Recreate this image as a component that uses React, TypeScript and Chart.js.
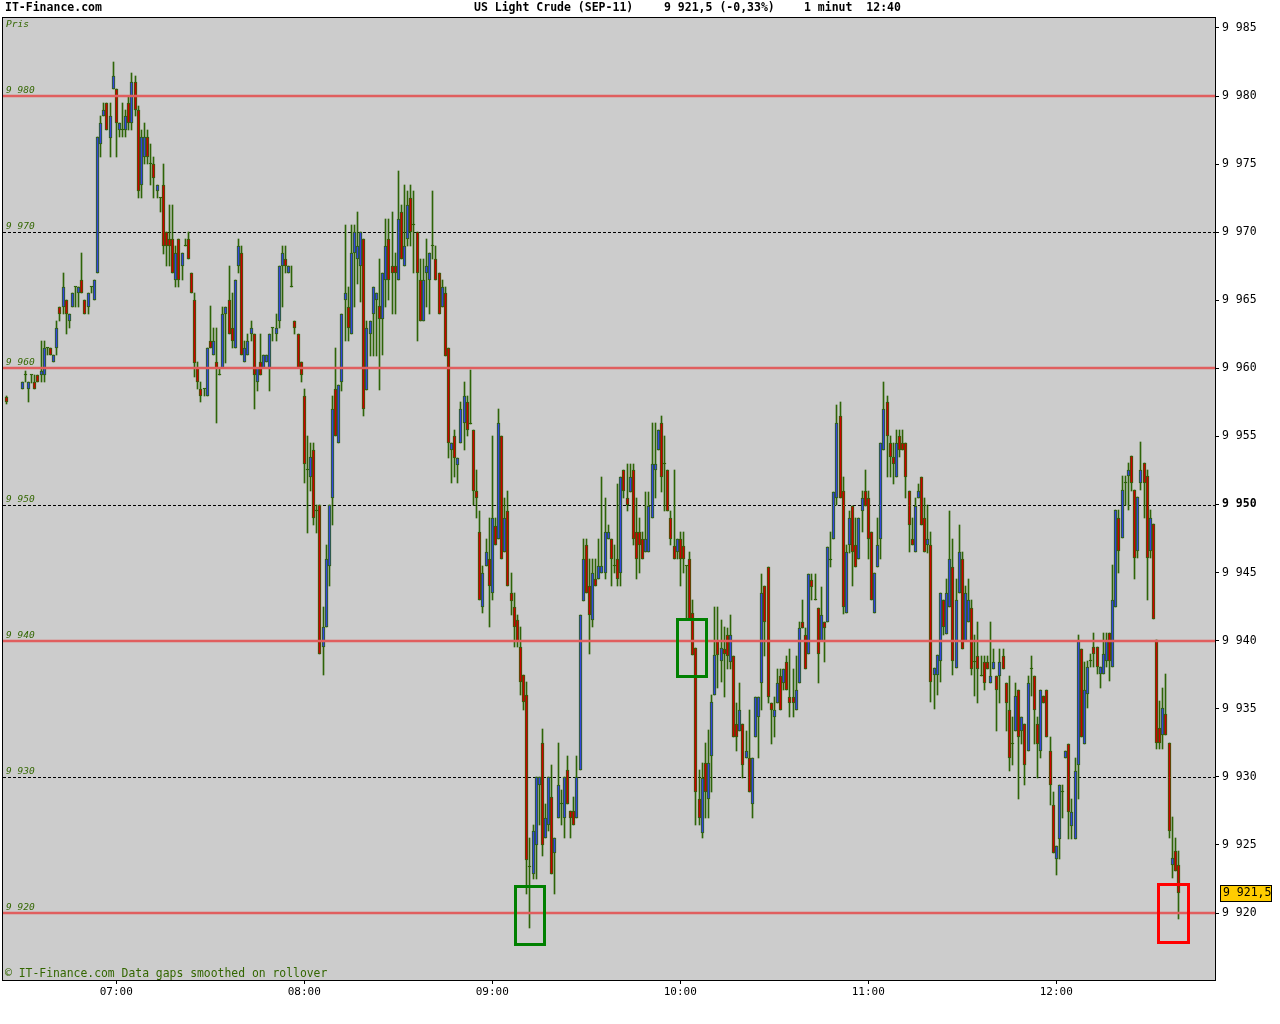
import React, { useEffect, useRef } from 'react';
import { Chart, registerables } from 'chart.js';

Chart.register(...registerables);

// ---------- data ----------
const firstMinute = 390; // 06:30, continuous 1-minute bars from here
const preBarMinute = 385; // isolated bar at 06:25

const opens = [
  9957.9,
  9958.5, 9959.5, 9958.5, 9959.5, 9959, 9959.5, 9959.5, 9959.5, 9961.5, 9961.5,
  9960.5, 9961.5, 9964.5, 9964.5, 9965, 9963.5, 9964.5, 9966, 9965.5, 9966.5,
  9965, 9964.5, 9966, 9965, 9967, 9976.5, 9978.5, 9979.5, 9976.9, 9980.5,
  9980.5, 9977.5, 9977.5, 9977.5, 9979.5, 9978, 9981, 9979, 9973.5, 9975.5,
  9977, 9975, 9975, 9973, 9972.5, 9973.5, 9970, 9969.5, 9969.5, 9966.5,
  9969.5, 9967.5, 9969, 9969.5, 9967, 9965, 9960, 9958.5, 9958.5, 9958,
  9962, 9961, 9960.5, 9959.5, 9960, 9964, 9965, 9963, 9961.5, 9967.5,
  9968.5, 9960.5, 9961, 9962.5, 9962.5, 9959, 9960.5, 9960, 9960.5, 9960,
  9963, 9962.5, 9963.5, 9967.5, 9968, 9967, 9966, 9963.5, 9962.5, 9960.5,
  9958, 9952.5, 9952, 9954, 9949.5, 9950, 9939.5, 9941, 9945.5, 9950.5,
  9958.5, 9954.5, 9959, 9965, 9964.5, 9962.5, 9968.5, 9968, 9967.5, 9969.5,
  9958.4, 9962.5, 9964, 9965, 9964.6, 9963.6, 9966.5, 9969.5, 9967.5, 9967.5,
  9966.5, 9971.5, 9967.5, 9969.5, 9972.5, 9970.5, 9970, 9966.5, 9963.5, 9967,
  9966.5, 9969, 9968, 9967, 9964.5, 9965.5, 9961.5, 9954, 9955, 9952.9,
  9954.5, 9956, 9957.5, 9955.9, 9955.5, 9951, 9948, 9942.5, 9945.5, 9946,
  9943.5, 9948.4, 9947.5, 9955, 9946.5, 9949.5, 9943.5, 9942.5, 9941.5, 9939.5,
  9937.5, 9936, 9923.4, 9922.9, 9925, 9929.4, 9932.5, 9925.5, 9926.5, 9928.5,
  9924.4, 9927, 9928, 9927, 9930.5, 9927.5, 9927.5, 9927, 9930.5, 9942.9,
  9947, 9944, 9941.5, 9944.5, 9944.5, 9945, 9945, 9947.45, 9947.45, 9945.5,
  9946, 9945, 9952.5, 9950.45, 9950.9, 9952.5, 9948, 9948, 9947.45, 9946.5,
  9946.5, 9949, 9952.5, 9954, 9956, 9953, 9952.5, 9949, 9946.95, 9946.5,
  9947.45, 9946.95, 9945.5, 9946, 9942, 9939.45, 9928.4, 9925.9, 9931, 9928.4,
  9931.5, 9936, 9940, 9938.5, 9939.4, 9940.45, 9938.45, 9938.9, 9933.9, 9933.4,
  9933.9, 9931.4, 9931.4, 9928, 9932.9, 9934.4, 9936.9, 9944, 9945.4, 9935.4,
  9934.4, 9935.4, 9937.4, 9936.9, 9938.45, 9935.9, 9935.9, 9934.9, 9936.9, 9941.4,
  9940.45, 9939, 9944.45, 9942.97, 9942.4, 9940, 9941.4, 9941.4, 9945.96, 9947.45,
  9950.5, 9956.5, 9951, 9942, 9947, 9949.9, 9947, 9946, 9949.5, 9951,
  9950.45, 9948, 9942, 9945.4, 9947.45, 9954, 9957.5, 9954.5, 9953.5, 9952,
  9955, 9954.5, 9954.5, 9951, 9947.5, 9946.5, 9950.45, 9952, 9949, 9947,
  9947, 9937.46, 9937.5, 9938.5, 9943, 9940.5, 9942.45, 9945.4, 9938, 9943.5,
  9946, 9940, 9941.4, 9942.4, 9938.45, 9938.9, 9937.44, 9938.45, 9938.45, 9936.9,
  9937.93, 9937.44, 9937.44, 9938.9, 9936.9, 9934.94, 9932.4, 9933.4, 9936.4, 9933.4,
  9933.9, 9931.9, 9937.93, 9937.44, 9933.9, 9931.9, 9935.94, 9936.4, 9931.9, 9927.96,
  9924, 9925.4, 9928.9, 9931.4, 9932.4, 9926.4, 9925.4, 9930.9, 9939.42, 9932.4,
  9936.07, 9938.54, 9939.54, 9939.54, 9937.55, 9937.55, 9938.54, 9940.53, 9938.05, 9942.5,
  9949.03, 9947.52, 9951.56, 9952.06, 9953.55, 9951.07, 9946.55, 9951.56, 9953.05, 9952.06,
  9946.55, 9948.54, 9940.03, 9933.59, 9933.09, 9934.58, 9932.52, 9923.54, 9924.58, 9923.54,
];

const highs = [
  9958,
  9959, 9959.8, 9959, 9959.5, 9959.5, 9959.5, 9962, 9962, 9961.5, 9961.5,
  9961, 9963.5, 9964.5, 9967, 9965, 9964, 9965.5, 9966, 9966, 9968.5,
  9965, 9965.5, 9966, 9966.5, 9977, 9978.5, 9979.5, 9979.5, 9979.5, 9982.5,
  9980.5, 9978, 9979.5, 9979, 9980, 9981.7, 9981.5, 9979.3, 9977.5, 9978,
  9977.5, 9976.5, 9975.5, 9973.5, 9972.5, 9975, 9970, 9972, 9972, 9969,
  9969.5, 9968.5, 9969.5, 9970, 9967, 9965.5, 9960.5, 9959, 9958.5, 9961.5,
  9964.6, 9963, 9963, 9960, 9964.5, 9964.5, 9967.5, 9965.5, 9966.5, 9969.5,
  9969, 9962, 9962.5, 9963.5, 9962.5, 9960, 9962.5, 9961, 9961, 9962.5,
  9963, 9964, 9967.5, 9969, 9969, 9967.5, 9967.5, 9963.5, 9962.5, 9960.5,
  9958.5, 9955, 9954.5, 9954.5, 9950, 9950, 9942.5, 9947, 9950, 9958,
  9961.5, 9958.8, 9964, 9970.5, 9966, 9970.5, 9970.5, 9971.5, 9970, 9969.5,
  9963.5, 9963.5, 9966, 9965.5, 9968, 9967, 9971, 9971, 9971.5, 9968.5,
  9974.5, 9972, 9973.5, 9973, 9973.5, 9973, 9970, 9968, 9968, 9969.5,
  9968.5, 9973, 9969, 9967, 9966.5, 9966, 9961.5, 9954.5, 9955.5, 9953.4,
  9957.5, 9959, 9958, 9959.9, 9955.5, 9952.5, 9949.5, 9945.5, 9947.5, 9949,
  9955, 9949, 9957, 9955, 9950.5, 9951, 9945, 9943.5, 9941.9, 9941,
  9937.5, 9937, 9925.5, 9926.5, 9930, 9930, 9933.5, 9928, 9930, 9930.9,
  9925.5, 9932.5, 9929, 9930, 9931.5, 9927.5, 9928.5, 9931.5, 9941.9, 9947.45,
  9947.5, 9946, 9946, 9946, 9947.45, 9952, 9950.45, 9948.5, 9947.45, 9947,
  9951.5, 9952, 9952.5, 9953, 9953, 9953, 9950.45, 9949, 9948, 9950.9,
  9950.9, 9956, 9956, 9955.5, 9956.5, 9955, 9952.5, 9949.5, 9952.5, 9947.45,
  9948, 9948, 9945.5, 9946.5, 9943, 9939.45, 9930.5, 9931, 9932.5, 9933.45,
  9936, 9942.5, 9942.5, 9941.5, 9941, 9940.96, 9941.9, 9938.9, 9935.4, 9936.9,
  9933.9, 9933.4, 9934.9, 9931.4, 9935.9, 9935.9, 9944.9, 9944, 9945.4, 9935.4,
  9935.9, 9937.9, 9937.9, 9937.9, 9938.9, 9939.4, 9937.9, 9938.9, 9941.4, 9942.97,
  9940.96, 9944.9, 9944.9, 9944.9, 9942.4, 9943.95, 9941.4, 9946.9, 9947.95, 9950.94,
  9957.3, 9957.5, 9952, 9947, 9949.5, 9949.9, 9949, 9949, 9951, 9952.5,
  9951, 9948, 9945, 9949, 9954.5, 9959, 9958, 9955, 9954.5, 9955.5,
  9955.5, 9955.5, 9954.5, 9951, 9949, 9950.45, 9951.5, 9952, 9950.45, 9949.94,
  9947.96, 9937.97, 9938.95, 9943.5, 9943, 9944.5, 9949.5, 9947.5, 9944.5, 9948.5,
  9946.5, 9944, 9944.5, 9942.97, 9940.45, 9941.4, 9938.9, 9938.9, 9938.9, 9941.4,
  9939.4, 9937.44, 9939.4, 9939.4, 9936.9, 9937.44, 9934.4, 9936.9, 9936.4, 9934.4,
  9933.9, 9937.44, 9938.9, 9937.44, 9934.4, 9936.4, 9935.94, 9936.4, 9932.9, 9928.9,
  9924.9, 9929.4, 9929.4, 9931.9, 9932.4, 9928.4, 9931.4, 9940.45, 9939.42, 9938.45,
  9938.54, 9939.04, 9940.53, 9939.54, 9938.05, 9940.53, 9940.53, 9940.53, 9945.56, 9949.58,
  9949.58, 9952.06, 9952.06, 9953.05, 9953.55, 9951.07, 9950.57, 9954.59, 9953.05, 9952.5,
  9949.58, 9948.54, 9940.03, 9935.57, 9936.51, 9937.55, 9932.52, 9927.06, 9925.53, 9924.58,
];

const lows = [
  9957.4,
  9958.5, 9959, 9957.5, 9958.9, 9958.5, 9959, 9959, 9959, 9961, 9961,
  9960.5, 9961, 9963.5, 9964, 9962.5, 9963, 9964.5, 9964.5, 9964.5, 9965.5,
  9964, 9964, 9965.5, 9965, 9967, 9975.5, 9978.5, 9977.5, 9975.5, 9980.5,
  9975.5, 9977, 9977, 9977, 9977.5, 9977.5, 9978.5, 9972.5, 9972.5, 9975,
  9975, 9973.5, 9972.5, 9972.5, 9971.5, 9968.4, 9967.5, 9967.5, 9967, 9966,
  9966, 9966.5, 9969, 9968, 9965.5, 9959.4, 9958.5, 9957.5, 9958, 9958,
  9961.5, 9961, 9956, 9959.5, 9960, 9960.4, 9962.5, 9961.5, 9961.5, 9967,
  9961, 9960.5, 9961, 9962, 9957, 9958.3, 9959.5, 9960, 9960.5, 9958.3,
  9962, 9962, 9963, 9964.5, 9967, 9967, 9966, 9962.5, 9960, 9959,
  9951.6, 9947.9, 9951, 9948.5, 9947.9, 9939, 9937.5, 9941, 9944, 9948.5,
  9955, 9954.5, 9958.3, 9962, 9962, 9962.5, 9964.5, 9966.2, 9964.9, 9956.5,
  9958.4, 9960.9, 9960.9, 9960.9, 9958.4, 9961, 9964.5, 9965, 9964, 9964,
  9966.5, 9968, 9967.5, 9969, 9969, 9967, 9962, 9963.5, 9963.5, 9964.5,
  9964, 9968, 9966.5, 9964, 9964.5, 9960.9, 9953.4, 9951.6, 9952, 9951.6,
  9954.5, 9954, 9955, 9955.9, 9950, 9949, 9943, 9942, 9945.5, 9941,
  9943, 9947, 9947.5, 9946, 9946.5, 9944, 9941.9, 9939.5, 9939.5, 9936,
  9934.9, 9921.4, 9918.9, 9922.5, 9922.5, 9926.5, 9924.2, 9925.5, 9926, 9922.9,
  9921.4, 9927, 9926.5, 9925.5, 9928, 9925.5, 9926.5, 9927, 9930.5, 9942.9,
  9943.5, 9939, 9941, 9944, 9944.5, 9945, 9944.5, 9947.45, 9944, 9945,
  9944, 9944, 9950.5, 9949.5, 9950.9, 9947, 9944.5, 9945, 9946, 9946.5,
  9946.5, 9949, 9950.45, 9954, 9950.9, 9949.5, 9949.5, 9947, 9946, 9946,
  9944, 9944.95, 9941.5, 9941.5, 9938.95, 9926.5, 9926.5, 9925.5, 9926.95, 9926.95,
  9928.9, 9936, 9936.5, 9937, 9935.9, 9937.9, 9937.9, 9932.9, 9931.9, 9933.4,
  9929.9, 9931.4, 9928.9, 9927, 9932.9, 9931.4, 9934.9, 9938.9, 9935.4, 9932.4,
  9932.9, 9935.4, 9934.9, 9936.4, 9936.4, 9934.4, 9934.4, 9934.9, 9936.9, 9940.96,
  9937.93, 9939, 9942.97, 9942.97, 9936.9, 9940, 9938.45, 9941.4, 9945.4, 9947.45,
  9950, 9950.45, 9941.94, 9942, 9946.47, 9944, 9945.4, 9946, 9948, 9949.9,
  9946, 9943, 9942, 9945.4, 9946, 9954, 9952, 9952, 9951.5, 9952,
  9953.5, 9954, 9950.45, 9946.5, 9947, 9946.5, 9950.45, 9948.5, 9946.5, 9946.47,
  9935.5, 9935, 9936, 9937, 9940.4, 9940.5, 9942.45, 9937.5, 9938, 9943.5,
  9939.42, 9940, 9941.4, 9937.5, 9935.94, 9935.43, 9937.44, 9936.4, 9937.93, 9936.9,
  9937.93, 9933.4, 9935.43, 9937.93, 9933.4, 9930.4, 9930.9, 9933.4, 9928.4, 9932.4,
  9929.4, 9931.9, 9935.94, 9932.4, 9929.9, 9931.4, 9935.43, 9932.9, 9927.96, 9924.4,
  9922.8, 9924, 9926.95, 9931.4, 9925.4, 9925.4, 9925.4, 9928.4, 9932.9, 9932.4,
  9935.07, 9938.05, 9938.05, 9937.55, 9936.5, 9937.55, 9938.05, 9937.06, 9938.05, 9942.5,
  9945.0, 9947.52, 9950.0, 9949.58, 9951.0, 9944.5, 9946.06, 9951.07, 9949.0, 9943.0,
  9946.06, 9941.57, 9932.02, 9932.02, 9932.02, 9933.09, 9925.53, 9922.55, 9923.05, 9919.53,
];

const closes = [
  9957.5,
  9959, 9959.5, 9959, 9959.5, 9958.5, 9959, 9959.8, 9961.5, 9961.5, 9961,
  9961, 9963, 9964, 9966, 9964, 9964, 9965.5, 9966, 9966, 9965.5,
  9964, 9965.5, 9966, 9966.5, 9977, 9978, 9979, 9977.5, 9978.5, 9981.5,
  9978, 9978, 9977.5, 9978.5, 9978, 9981, 9979, 9973, 9977, 9977,
  9975.5, 9975, 9974, 9973.5, 9972.5, 9969, 9969, 9969, 9967, 9968.5,
  9966.5, 9968.5, 9969, 9968, 9965.5, 9960.4, 9959, 9958, 9958.5, 9961.5,
  9961.5, 9962, 9960, 9959.5, 9964, 9964.5, 9962.5, 9962, 9966.5, 9969,
  9961, 9961.5, 9962, 9963, 9959.5, 9960, 9959.5, 9961, 9961, 9962.5,
  9963, 9963, 9967.5, 9968.5, 9967.5, 9967.5, 9966, 9963, 9960, 9959.5,
  9953, 9952.5, 9953.5, 9949, 9949.5, 9939, 9941, 9946, 9950, 9957,
  9955, 9958.8, 9964, 9965.5, 9963, 9968.5, 9970, 9969, 9970, 9957,
  9963, 9963.5, 9966, 9965.5, 9963.6, 9967, 9969, 9966.5, 9967, 9967,
  9971, 9968, 9969, 9972, 9970, 9970.5, 9967, 9963.5, 9966.5, 9967.5,
  9968.5, 9969, 9966.5, 9964, 9966, 9960.9, 9954.5, 9954.5, 9953.4, 9953.4,
  9957, 9958, 9955.5, 9955.9, 9951, 9950.5, 9943, 9945, 9946.5, 9944,
  9949, 9947, 9956, 9946, 9949, 9944, 9942.9, 9941, 9940, 9937,
  9935.5, 9923.9, 9923.4, 9926, 9930, 9930, 9925, 9927, 9930, 9922.9,
  9925.5, 9929.4, 9928, 9930, 9928, 9927, 9926.5, 9930, 9941.9, 9946,
  9943.5, 9941.9, 9945, 9944, 9945.45, 9945.45, 9948, 9948, 9946, 9945.5,
  9944.5, 9952, 9951, 9950, 9952, 9947.45, 9946, 9947, 9946, 9947.45,
  9949.9, 9953, 9953, 9955.5, 9952, 9953, 9949.5, 9947.45, 9946, 9947.45,
  9946, 9946, 9945.5, 9941.5, 9938.95, 9928.9, 9926.95, 9929.9, 9928.9, 9931,
  9935.5, 9938.95, 9938.95, 9939.45, 9939, 9938.9, 9940.45, 9932.9, 9932.9, 9934.9,
  9930.9, 9931.9, 9928.9, 9931.4, 9935.9, 9935.9, 9943.5, 9941.4, 9935.9, 9934.9,
  9934.9, 9936.9, 9934.9, 9937.9, 9936.4, 9935.4, 9935.4, 9936.4, 9940.96, 9940.96,
  9937.93, 9944.9, 9943.95, 9942.97, 9939, 9941.9, 9940.96, 9946.9, 9945.96, 9950.94,
  9956, 9950.45, 9942.45, 9946.5, 9949, 9946.5, 9945.4, 9949, 9950.45, 9949.9,
  9947.45, 9943, 9945, 9947, 9954.5, 9957, 9955, 9953.5, 9953, 9954.5,
  9954, 9954, 9952, 9948.5, 9947, 9949.9, 9951, 9948.5, 9946.5, 9947.45,
  9937, 9937.97, 9938.95, 9943.5, 9941, 9943.5, 9946, 9938.5, 9943, 9946.5,
  9939.42, 9943.5, 9942.97, 9937.93, 9938.45, 9937.93, 9937.44, 9936.9, 9937.93, 9937.44,
  9938.45, 9936.4, 9938.45, 9937.93, 9935.43, 9931.4, 9932.4, 9935.94, 9932.9, 9934.4,
  9930.9, 9936.9, 9937.93, 9934.94, 9932.4, 9936.4, 9935.43, 9932.9, 9929.4, 9924.4,
  9924.9, 9929.4, 9928.9, 9931.9, 9927.4, 9927.4, 9930.4, 9939.94, 9932.9, 9936.4,
  9938.05, 9938.54, 9939.04, 9938.05, 9938.05, 9939.04, 9940.03, 9938.54, 9943.0, 9949.58,
  9946.55, 9951.07, 9951.56, 9952.5, 9951.56, 9946.06, 9950.57, 9952.5, 9951.56, 9946.06,
  9949.03, 9941.57, 9932.52, 9932.52, 9935.07, 9933.09, 9926.02, 9924.04, 9923.05, 9921.5,
];

const barMinutes = [preBarMinute, ...Array.from({ length: opens.length - 1 }, (_, i) => firstMinute + i)];

const hourTicks = [420, 480, 540, 600, 660, 720];
const priceTicks = [9920, 9925, 9930, 9935, 9940, 9945, 9950, 9955, 9960, 9965, 9970, 9975, 9980, 9985];
const boldPriceTick = 9950;
const redLevels = [9920, 9940, 9960, 9980];
const dashedLevels = [9930, 9950, 9970];
const levelLabels = [9980, 9970, 9960, 9950, 9940, 9930, 9920];

// marker rectangles (minute range, price range)
const markerFrom = [547.4, 599.1, 752.6];
const markerTo = [556.5, 608.3, 761.9];
const markerHigh = [9921.98, 9941.61, 9922.12];
const markerLow = [9917.76, 9937.42, 9917.89];
const markerColors = ['#008000', '#008000', '#ff0000'];

const instrument = 'US Light Crude (SEP-11)';
const changeText = '(-0,33%)';
const intervalText = '1 minut';
const clockText = '12:40';

const X_MIN = 383.84;
const X_MAX = 770.65;
const Y_MIN = 9915.08;
const Y_MAX = 9985.73;

const MONO = '"DejaVu Sans Mono", "Liberation Mono", monospace';
const WICK = '#2e6408';
const UP = '#3344dd';
const DOWN = '#cc0000';
const TEXT_GREEN = '#336600';

function fmtPrice(v: number): string {
  const r = Math.round(v * 10) / 10;
  const int = Math.floor(r);
  const thousands = Math.floor(int / 1000);
  const rest = String(int % 1000).padStart(3, '0');
  const frac = Math.round((r - int) * 10);
  return `${thousands} ${rest}` + (frac ? `,${frac}` : '');
}

function fmtTime(m: number): string {
  const h = Math.floor(m / 60);
  const mm = Math.round(m % 60);
  return `${String(h).padStart(2, '0')}:${String(mm).padStart(2, '0')}`;
}

const decorPlugin = {
  id: 'decor',
  beforeDraw(chart: any) {
    const { ctx, chartArea: a } = chart;
    ctx.save();
    ctx.fillStyle = '#ffffff';
    ctx.fillRect(0, 0, chart.width, chart.height);
    ctx.fillStyle = '#cccccc';
    ctx.fillRect(a.left, a.top, a.right - a.left, a.bottom - a.top);
    ctx.restore();
  },
  beforeDatasetsDraw(chart: any) {
    const { ctx, chartArea: a, scales } = chart;
    const ys = scales.y;
    // snap bar elements (positioned by the scales) to whole pixels for crisp candles
    chart.data.datasets.forEach((_: any, di: number) => {
      const meta = chart.getDatasetMeta(di);
      meta.data.forEach((el: any) => {
        el.x = Math.floor(el.x) + 0.5;
        let top = Math.round(Math.min(el.y, el.base));
        let bottom = Math.round(Math.max(el.y, el.base));
        if (bottom - top < 1) bottom = top + 1;
        el.y = top;
        el.base = bottom;
      });
    });
    ctx.save();
    // dashed levels
    ctx.strokeStyle = '#000';
    ctx.lineWidth = 1;
    ctx.setLineDash([3, 2]);
    dashedLevels.forEach((lv) => {
      const y = Math.round(ys.getPixelForValue(lv)) + 0.5;
      ctx.beginPath();
      ctx.moveTo(a.left, y);
      ctx.lineTo(a.right, y);
      ctx.stroke();
    });
    ctx.setLineDash([]);
    // level labels
    ctx.fillStyle = TEXT_GREEN;
    ctx.font = `italic 9.5px ${MONO}`;
    ctx.textAlign = 'left';
    ctx.textBaseline = 'alphabetic';
    levelLabels.forEach((lv) => {
      const y = ys.getPixelForValue(lv);
      ctx.fillText(fmtPrice(lv), a.left + 3, y - 3);
    });
    ctx.fillText('Pris', a.left + 3, a.top + 9);
    // footer
    ctx.font = `11.4px ${MONO}`;
    ctx.fillText('\u00a9 IT-Finance.com Data gaps smoothed on rollover', a.left + 2, a.bottom - 3);
    ctx.restore();
  },
  afterDatasetsDraw(chart: any) {
    const { ctx, chartArea: a, scales } = chart;
    const xs = scales.x;
    const ys = scales.y;
    ctx.save();
    // red levels
    ctx.strokeStyle = '#e05e5e';
    ctx.lineWidth = 2.5;
    redLevels.forEach((lv) => {
      const y = Math.round(ys.getPixelForValue(lv));
      ctx.beginPath();
      ctx.moveTo(a.left, y);
      ctx.lineTo(a.right, y);
      ctx.stroke();
    });
    // marker rectangles
    ctx.lineWidth = 3;
    markerFrom.forEach((f, i) => {
      const x1 = Math.round(xs.getPixelForValue(f)) + 0.5;
      const x2 = Math.round(xs.getPixelForValue(markerTo[i])) + 0.5;
      const y1 = Math.round(ys.getPixelForValue(markerHigh[i])) + 0.5;
      const y2 = Math.round(ys.getPixelForValue(markerLow[i])) + 0.5;
      ctx.strokeStyle = markerColors[i];
      ctx.strokeRect(x1, y1, x2 - x1, y2 - y1);
    });
    // plot border
    ctx.strokeStyle = '#000';
    ctx.lineWidth = 1;
    ctx.strokeRect(a.left - 0.5, a.top - 0.5, a.right - a.left + 1, a.bottom - a.top + 1);
    // last price tag
    const last = closes[closes.length - 1];
    const py = Math.round(ys.getPixelForValue(last));
    const bx = a.right + 5;
    ctx.fillStyle = '#ffcc00';
    ctx.fillRect(bx, py - 8, 51, 16);
    ctx.strokeStyle = '#000';
    ctx.strokeRect(bx + 0.5, py - 7.5, 51, 16);
    ctx.fillStyle = '#000';
    ctx.font = `11.5px ${MONO}`;
    ctx.textAlign = 'left';
    ctx.textBaseline = 'middle';
    ctx.fillText(fmtPrice(last), bx + 3, py + 0.5);
    // header
    ctx.font = `bold 11.5px ${MONO}`;
    ctx.textBaseline = 'middle';
    ctx.fillText('IT-Finance.com', 5, 8);
    ctx.fillText(instrument, 474, 8);
    ctx.fillText(`${fmtPrice(last)} ${changeText}`, 664, 8);
    ctx.fillText(`${intervalText}  ${clockText}`, 804, 8);
    ctx.restore();
  },
};

export default function App() {
  const canvasRef = useRef<HTMLCanvasElement | null>(null);

  useEffect(() => {
    document.body.style.margin = '0';
    const canvas = canvasRef.current;
    if (!canvas) return;

    const bodyColors = opens.map((o, i) => (closes[i] > o ? UP : closes[i] < o ? DOWN : WICK));

    const chart = new Chart(canvas, {
      type: 'bar',
      data: {
        datasets: [
          {
            label: 'wick',
            data: barMinutes.map((t, i) => ({ x: t, y: [lows[i], highs[i]] })) as any,
            backgroundColor: WICK,
            borderWidth: 0,
            barThickness: 1,
            grouped: false,
            order: 2,
          } as any,
          {
            label: 'body',
            data: barMinutes.map((t, i) => ({ x: t, y: [opens[i], closes[i]] })) as any,
            backgroundColor: bodyColors,
            borderColor: WICK,
            borderWidth: 1,
            borderSkipped: false,
            barThickness: 3,
            minBarLength: 1,
            grouped: false,
            order: 1,
          } as any,
        ],
      },
      options: {
        animation: false,
        responsive: false,
        maintainAspectRatio: false,
        devicePixelRatio: 1,
        events: [],
        layout: { padding: { top: 18, left: 3, right: 0, bottom: 0 } },
        plugins: {
          legend: { display: false },
          tooltip: { enabled: false },
          title: { display: false },
        },
        scales: {
          x: {
            type: 'linear',
            min: X_MIN,
            max: X_MAX,
            offset: false,
            grid: { display: true, drawOnChartArea: false, drawTicks: true, tickLength: 4, color: '#000', offset: false },
            border: { display: false },
            ticks: {
              color: '#000',
              font: { family: MONO, size: 11 },
              padding: 2,
              maxRotation: 0,
              autoSkip: false,
              callback: (v: any) => fmtTime(Number(v)),
            },
            afterBuildTicks: (scale: any) => {
              scale.ticks = hourTicks.map((v) => ({ value: v }));
            },
            afterFit: (scale: any) => {
              scale.height = 44;
            },
          },
          y: {
            type: 'linear',
            position: 'right',
            min: Y_MIN,
            max: Y_MAX,
            grid: { display: true, drawOnChartArea: false, drawTicks: true, tickLength: 4, color: '#000' },
            border: { display: false },
            ticks: {
              color: '#000',
              padding: 3,
              font: (ctx: any) => ({
                family: MONO,
                size: 11.5,
                weight: ctx.tick && ctx.tick.value === boldPriceTick ? 'bold' : 'normal',
              }),
              callback: (v: any) => fmtPrice(Number(v)),
            },
            afterBuildTicks: (scale: any) => {
              scale.ticks = priceTicks.map((v) => ({ value: v }));
            },
            afterFit: (scale: any) => {
              scale.width = 65;
            },
          },
        },
      } as any,
      plugins: [decorPlugin],
    });

    return () => {
      chart.destroy();
    };
  }, []);

  return (
    <div style={{ width: 1280, height: 1024, background: '#fff' }}>
      <canvas ref={canvasRef} width={1280} height={1024} style={{ display: 'block', width: 1280, height: 1024 }} />
    </div>
  );
}
